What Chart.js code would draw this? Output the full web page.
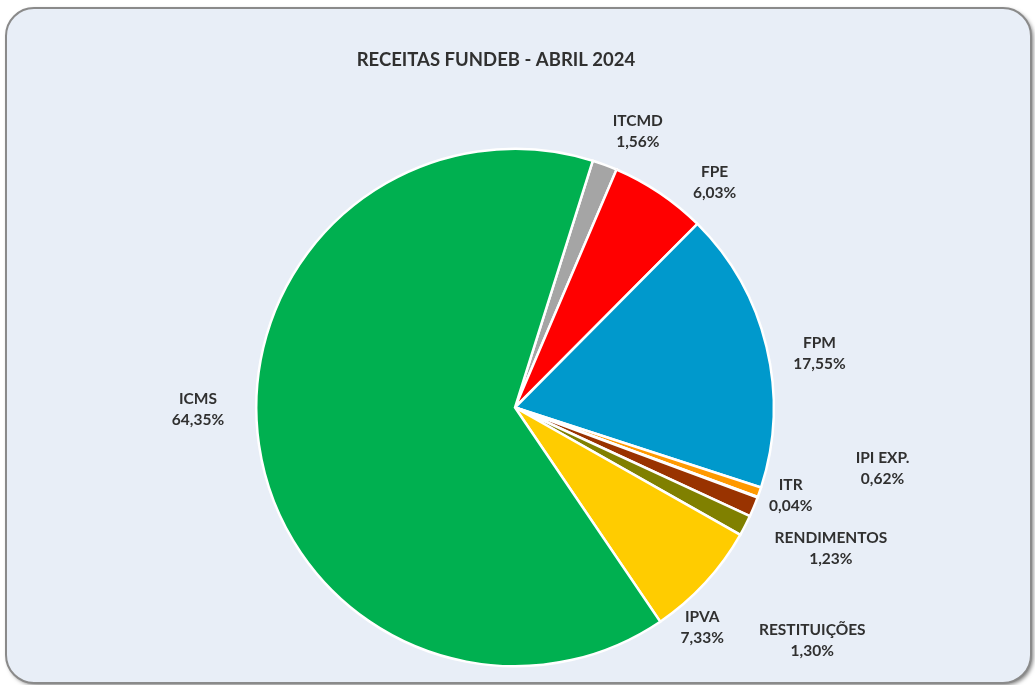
<!DOCTYPE html>
<html>
<head>
<meta charset="utf-8">
<script src="https://cdn.jsdelivr.net/npm/chart.js@4/dist/chart.umd.min.js"></script>
<style>
  html, body { margin: 0; padding: 0; background: #ffffff; overflow: hidden; }
  #wrap { width: 1035px; height: 685px; position: relative; }
</style>
</head>
<body>
<div id="wrap"><canvas id="pie" width="1035" height="685"></canvas></div>
<script>
"use strict"

const chartTitle = 'RECEITAS FUNDEB - ABRIL 2024';

const categories = ['ITCMD', 'FPE', 'FPM', 'IPI EXP.', 'ITR', 'RENDIMENTOS', 'RESTITUIÇÕES', 'IPVA', 'ICMS'];
const shares = [1.56, 6.03, 17.55, 0.62, 0.04, 1.23, 1.30, 7.33, 64.35];
const sliceColors = ['#A5A5A5', '#FF0000', '#0099CC', '#FF9900', '#7F7F7F', '#993300', '#808000', '#FFCC00', '#00B050'];

// nudge of each label from the middle of its arc edge (px)
const labelNudge = [[33, -33], [55, -10], [53, 7], [123, -24], [33, -2], [77, 42], [67, 115], [-3, 45], [-61, -35]];

const fontFamily = 'Lato, "Open Sans", sans-serif';
const textColor = '#303030';

/**
 * Draws the rounded panel behind the chart and the title.
 */
const panelPlugin = {
    id: 'panel',
    beforeDraw(chart) {
        const ctx = chart.ctx;
        const x = 6, y = 8, w = 1025, h = 675, r = 28;
        ctx.save();
        ctx.fillStyle = '#ffffff';
        ctx.fillRect(0, 0, chart.width, chart.height);

        ctx.shadowColor = 'rgba(0,0,0,0.55)';
        ctx.shadowBlur = 4;
        ctx.shadowOffsetX = 2;
        ctx.shadowOffsetY = 2;
        ctx.beginPath();
        ctx.roundRect(x, y, w, h, r);
        ctx.fillStyle = '#E8EEF7';
        ctx.fill();
        ctx.shadowColor = 'transparent';
        ctx.lineWidth = 2;
        ctx.strokeStyle = '#8A8A8A';
        ctx.stroke();

        ctx.fillStyle = textColor;
        ctx.font = `bold 18.5px ${fontFamily}`;
        ctx.textAlign = 'center';
        ctx.textBaseline = 'middle';
        ctx.fillText(chartTitle, 496, 60);
        ctx.restore();
    }
};

/**
 * Writes name and percentage next to each slice.
 */
const sliceLabelPlugin = {
    id: 'sliceLabels',
    afterDatasetsDraw(chart) {
        const ctx = chart.ctx;
        const meta = chart.getDatasetMeta(0);
        ctx.save();
        ctx.fillStyle = textColor;
        ctx.font = `bold 15.5px ${fontFamily}`;
        ctx.textAlign = 'center';
        ctx.textBaseline = 'middle';
        meta.data.forEach((arc, i) => {
            const mid = (arc.startAngle + arc.endAngle) / 2;
            const px = arc.x + Math.cos(mid) * arc.outerRadius + labelNudge[i][0];
            const py = arc.y + Math.sin(mid) * arc.outerRadius + labelNudge[i][1];
            const pct = shares[i].toFixed(2).replace('.', ',') + '%';
            ctx.fillText(categories[i], px, py - 10.5);
            ctx.fillText(pct, px, py + 10.5);
        });
        ctx.restore();
    }
};

new Chart(document.getElementById('pie'), {
    type: 'pie',
    data: {
        labels: categories,
        datasets: [{
            data: shares,
            backgroundColor: sliceColors,
            borderColor: '#ffffff',
            borderWidth: 2.5,
            borderJoinStyle: 'miter'
        }]
    },
    options: {
        responsive: false,
        animation: false,
        rotation: 17.5,
        layout: { padding: { left: 255, right: 260, top: 147, bottom: 17 } },
        plugins: {
            legend: { display: false },
            tooltip: { enabled: false },
            title: { display: false }
        }
    },
    plugins: [panelPlugin, sliceLabelPlugin]
});
</script>
</body>
</html>
